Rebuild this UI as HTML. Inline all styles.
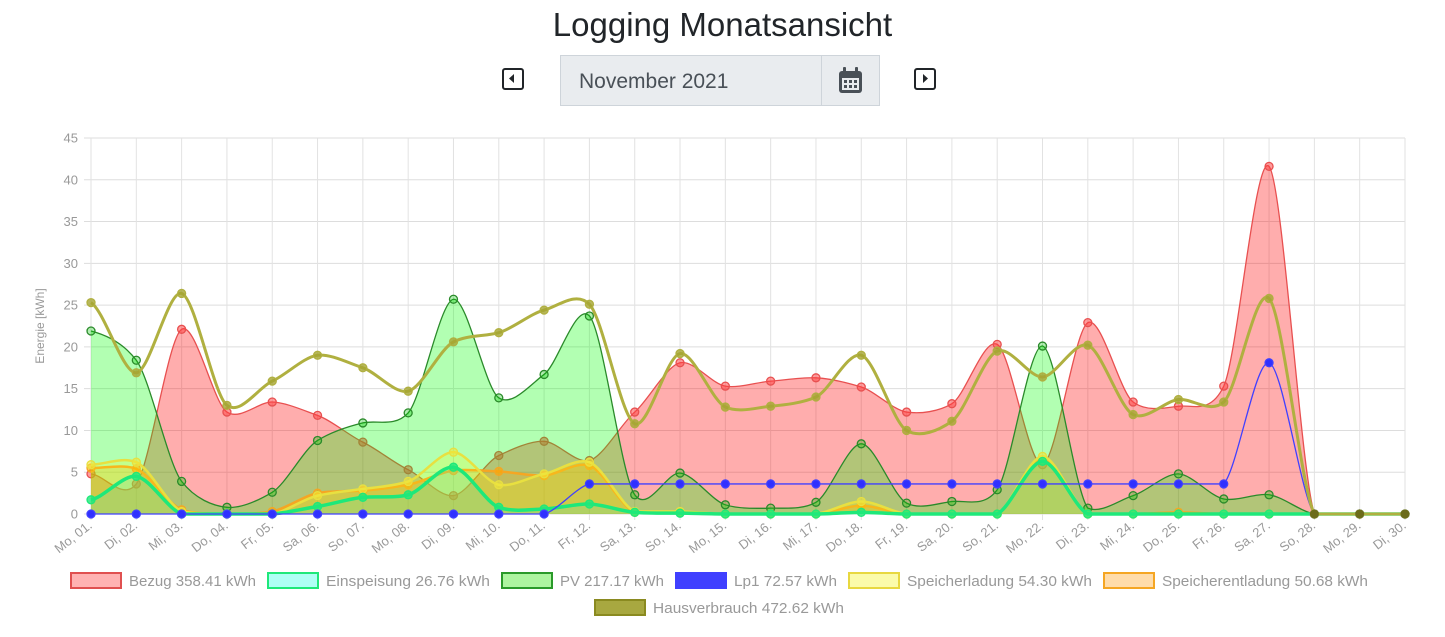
<!DOCTYPE html>
<html><head><meta charset="utf-8"><style>
body{margin:0;width:1445px;height:637px;background:#fff;font-family:"Liberation Sans",sans-serif;overflow:hidden;position:relative}
h1{position:absolute;top:6px;left:0;width:1445px;text-align:center;margin:0;font-weight:400;font-size:33px;color:#212529}
.btn{position:absolute;top:68px;width:22px;height:22px;border:2.5px solid #212529;border-radius:3px;box-sizing:border-box}
.inp{position:absolute;left:560px;top:55px;width:320px;height:51px;background:#e9ecef;border:1px solid #ced4da;box-sizing:border-box}
.inp span{position:absolute;left:18px;top:14px;font-size:21px;color:#495057}
.inp i{position:absolute;left:260px;top:0;width:1px;height:49px;background:#ced4da}
</style></head><body>
<h1>Logging Monatsansicht</h1>
<div class="btn" style="left:502px"><svg width="17" height="17" style="position:absolute;left:0;top:0"><polygon points="10,4 10,13 5,8.5" fill="#212529"/></svg></div>
<div class="btn" style="left:914px"><svg width="17" height="17" style="position:absolute;left:0;top:0"><polygon points="7,4 7,13 12,8.5" fill="#212529"/></svg></div>
<div class="inp"><span>November 2021</span><i></i>
<svg width="28" height="30" style="position:absolute;left:276px;top:10px"><rect x="2" y="5" width="23" height="22" rx="3" fill="#495057"/><rect x="5" y="12" width="17" height="12" fill="#e9ecef"/><rect x="6" y="1" width="3" height="7" rx="1" fill="#495057"/><rect x="18" y="1" width="3" height="7" rx="1" fill="#495057"/><g fill="#495057"><rect x="7" y="14" width="3" height="3"/><rect x="12" y="14" width="3" height="3"/><rect x="17" y="14" width="3" height="3"/><rect x="7" y="19" width="3" height="3"/><rect x="12" y="19" width="3" height="3"/><rect x="17" y="19" width="3" height="3"/></g></svg></div>
<svg id="c" width="1445" height="637" style="position:absolute;left:0;top:0"></svg>
<script>
const X0=91,DX=45.31,Y0=514,SY=8.356;
const days=["Mo","Di","Mi","Do","Fr","Sa","So"];
const labels=[];for(let i=0;i<30;i++){labels.push(days[i%7]+", "+String(i+1).padStart(2,"0")+".");}
const S=[
{n:"Hausverbrauch 472.62 kWh",s:"#b0b040",f:"none",lw:3,d:[25.3,16.9,26.4,13.0,15.9,19.0,17.5,14.7,20.6,21.7,24.4,25.1,10.8,19.2,12.8,12.9,14.0,19.0,10.0,11.1,19.5,16.4,20.2,11.9,13.7,13.4,25.8,0,0,0],pc:"rgba(165,165,50,0.8)"},
{n:"Bezug 358.41 kWh",s:"#e85050",f:"rgba(255,0,0,0.32)",d:[4.8,3.6,22.1,12.2,13.4,11.8,8.6,5.3,2.2,7.0,8.7,6.4,12.2,18.1,15.3,15.9,16.3,15.2,12.2,13.2,20.3,5.9,22.9,13.4,12.9,15.3,41.6,0,0,0],pc:"rgba(255,60,60,0.5)"},
{n:"PV 217.17 kWh",s:"#2a8a2a",f:"rgba(0,255,0,0.3)",d:[21.9,18.4,3.9,0.8,2.6,8.8,10.9,12.1,25.7,13.9,16.7,23.7,2.3,4.9,1.1,0.7,1.4,8.4,1.3,1.5,2.9,20.1,0.7,2.2,4.8,1.8,2.3,0,0,0],pc:"rgba(0,200,0,0.3)"},
{n:"Speicherentladung 50.68 kWh",s:"#f5a623",f:"rgba(255,165,0,0.25)",lw:2.5,d:[5.5,5.4,0.5,0,0.3,2.5,2.8,3.5,5.2,5.1,4.6,5.8,0.2,0.2,0,0,0,1,0,0,0,6.5,0,0,0.2,0,0,0,0,0],pc:"rgba(255,165,0,0.6)"},
{n:"Speicherladung 54.30 kWh",s:"#e8e040",f:"rgba(255,255,0,0.2)",lw:2.5,d:[5.9,6.2,0.3,0,0,2.2,3,3.9,7.4,3.5,4.8,6.2,0.3,0.3,0,0,0,1.5,0,0,0,6.9,0,0,0,0,0,0,0,0],pc:"rgba(240,230,60,0.6)"},
{n:"Einspeisung 26.76 kWh",s:"#1ee87a",f:"rgba(0,255,255,0.15)",d:[1.7,4.5,0,0,0,0.9,2,2.3,5.6,0.8,0.6,1.2,0.2,0.1,0,0,0,0.2,0,0,0,6.3,0,0,0,0,0,0,0,0],pc:"rgba(30,232,122,0.8)",lw:3.5},
{n:"Lp1 72.57 kWh",s:"#4040ff",f:"none",d:[0,0,0,0,0,0,0,0,0,0,0,3.6,3.6,3.6,3.6,3.6,3.6,3.6,3.6,3.6,3.6,3.6,3.6,3.6,3.6,3.6,18.1,0,0,0],pc:"#3030ff"}
];
let h='';
for(let v=0;v<=45;v+=5){const y=Y0-v*SY;h+=`<line x1="84" x2="1405" y1="${y}" y2="${y}" stroke="#ddd"/><text x="78" y="${y+4.5}" font-size="13" fill="#999" text-anchor="end">${v}</text>`;}
for(let i=0;i<30;i++){const x=X0+i*DX;h+=`<line x1="${x}" x2="${x}" y1="138" y2="520" stroke="#e2e2e2"/><text transform="translate(${x+2},${527}) rotate(-38)" font-size="13" fill="#999" text-anchor="end">${labels[i]}</text>`;}
h+=`<text transform="translate(44,326) rotate(-90)" font-size="12" fill="#999" text-anchor="middle">Energie [kWh]</text>`;
function path(d){const p=d.map((v,i)=>[X0+i*DX,Y0-v*SY]);let s=`M${p[0][0]},${p[0][1]}`;const t=0.12;
for(let i=0;i<p.length-1;i++){const a=p[Math.max(0,i-1)],b=p[i],c=p[i+1],e=p[Math.min(p.length-1,i+2)];
let c1y=b[1]+(c[1]-a[1])*t,c2y=c[1]-(e[1]-b[1])*t;c1y=Math.min(Y0,c1y);c2y=Math.min(Y0,c2y);
if(b[1]==c[1]){c1y=b[1];c2y=c[1];}
s+=` C${b[0]+DX*0.3},${c1y} ${c[0]-DX*0.3},${c2y} ${c[0]},${c[1]}`;}return s;}
const order=[1,2,3,4,5,6,0];
for(const k of order){const sr=S[k];const p=path(sr.d);
if(sr.f!="none")h+=`<path d="${p} L${X0+29*DX},${Y0} L${X0},${Y0}Z" fill="${sr.f}"/>`;
h+=`<path d="${p}" fill="none" stroke="${sr.s}" stroke-width="${sr.lw||1.3}"/>`;
sr.d.forEach((v,i)=>{h+=`<circle cx="${X0+i*DX}" cy="${Y0-v*SY}" r="4" fill="${sr.pc}" stroke="${sr.s}" stroke-width="1.3"/>`});}
for(let i=27;i<30;i++)h+=`<circle cx="${X0+i*DX}" cy="${Y0}" r="4.5" fill="#6b6b1a"/>`;
const leg=[[1,71,580,256],[5,268,580,490],[2,502,580,664],[6,676,580,837],[4,849,580,1092],[3,1104,580,1368],[0,595,607,844]];
const lc={1:["rgba(255,0,0,0.3)","#e05050"],5:["#aefff5","#1ee87a"],2:["#adf5a0","#2a9a2a"],6:["#4040ff","#4040ff"],4:["#fbfbaa","#e8d840"],3:["#ffdcaa","#f5a623"],0:["#a8a840","#8a8a20"]};
for(const [k,x,y,e] of leg){h+=`<rect x="${x}" y="${y-7}" width="50" height="15" fill="${lc[k][0]}" stroke="${lc[k][1]}" stroke-width="2"/><text x="${x+58}" y="${y+6}" font-size="15" fill="#999" textLength="${e-x-58}" lengthAdjust="spacingAndGlyphs">${S[k].n}</text>`;}
document.getElementById('c').innerHTML=h;
</script>
</body></html>
